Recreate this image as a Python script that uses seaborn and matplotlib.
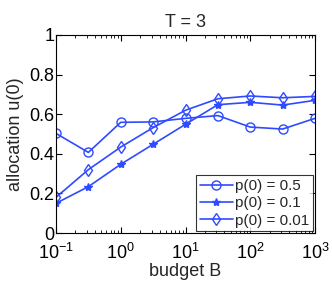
import numpy as np
import pandas as pd
import matplotlib
matplotlib.use("Agg")
import matplotlib.pyplot as plt
import matplotlib.ticker as ticker
import seaborn as sns

budget = [0.1, 0.316, 1, 3.16, 10, 31.6, 100, 316, 1000]
u_p05 = [0.503, 0.407, 0.559, 0.561, 0.579, 0.593, 0.535, 0.525, 0.579]
u_p01 = [0.150, 0.234, 0.347, 0.448, 0.549, 0.648, 0.660, 0.646, 0.670]
u_p001 = [0.180, 0.320, 0.434, 0.532, 0.620, 0.678, 0.692, 0.683, 0.690]
labels = ["p(0) = 0.5", "p(0) = 0.1", "p(0) = 0.01"]
markers = ["o", "*", "d"]

df = pd.DataFrame({
    "budget": budget * 3,
    "u": u_p05 + u_p01 + u_p001,
    "series": [labels[0]] * 9 + [labels[1]] * 9 + [labels[2]] * 9,
})

sns.set_style("ticks")
plt.rcParams["font.family"] = ["Liberation Sans", "DejaVu Sans"]
plt.rcParams["axes.linewidth"] = 0.8
col = "#2f4bff"

fig = plt.figure(figsize=(3.32, 2.81), dpi=100)
ax = fig.add_axes([56 / 332, 1 - 233 / 281, (315 - 56) / 332, (233 - 35) / 281])

for lab, mk in zip(labels, markers):
    sub = df[df["series"] == lab]
    sns.lineplot(data=sub, x="budget", y="u", ax=ax, color=col, lw=1.2,
                 marker=mk, markersize=6.5 if mk != "*" else 6,
                 markerfacecolor="none" if mk != "*" else col,
                 markeredgecolor=col, markeredgewidth=1.0, label=lab)

ax.set_xscale("log")
ax.set_xlim(0.1, 1000)
ax.set_ylim(0, 1)
ax.yaxis.set_major_locator(ticker.MultipleLocator(0.2))
ax.yaxis.set_major_formatter(ticker.FuncFormatter(lambda v, p: "%g" % round(v, 1)))
ax.xaxis.set_major_locator(ticker.LogLocator(base=10, numticks=10))
ax.xaxis.set_minor_locator(ticker.LogLocator(base=10, subs=np.arange(2, 10), numticks=20))
ax.tick_params(which="both", direction="in", top=True, right=True, labelsize=13, colors="black")
ax.tick_params(which="major", length=4)
ax.tick_params(which="minor", length=2)
ax.tick_params(axis="x", pad=7)
ax.tick_params(axis="y", pad=1)
for s in ax.spines.values():
    s.set_color("black")

ax.set_xlabel("budget B", fontsize=13, labelpad=0)
ax.set_ylabel("allocation u(0)", fontsize=13, labelpad=4)
ax.set_title("T = 3", fontsize=13, pad=6)

leg = ax.legend(loc="lower right", fontsize=11, frameon=True, fancybox=False,
                edgecolor="black", handlelength=2.2, handletextpad=0.15,
                borderpad=0.25, labelspacing=0.22, borderaxespad=0.1)
leg.get_frame().set_linewidth(0.8)

fig.savefig("out.png", dpi=100)
